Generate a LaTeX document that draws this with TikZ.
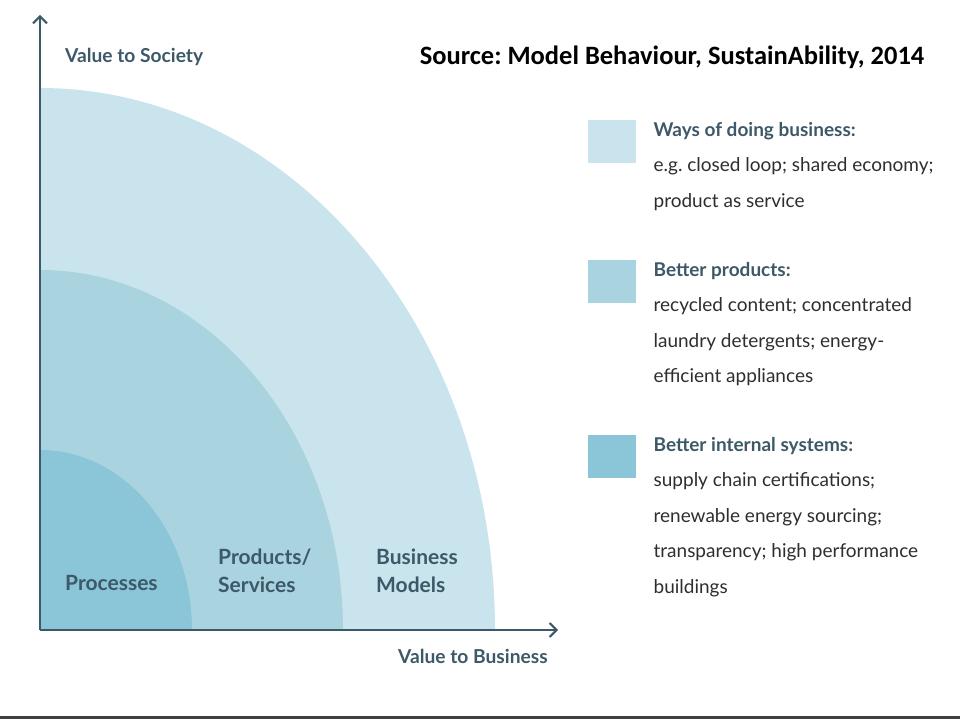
\documentclass[tikz,border=0pt]{standalone}
\usepackage{fontspec}
\setmainfont{Lato}
\newfontfamily\srcfont{Carlito}
\usetikzlibrary{positioning, arrows.meta}
\frenchspacing

\definecolor{ringout}{HTML}{C9E4EC}
\definecolor{ringmid}{HTML}{A9D4DF}
\definecolor{ringin}{HTML}{8AC6D7}
\definecolor{slate}{HTML}{3D5868}
\definecolor{bodygray}{HTML}{2E2E2E}

\begin{document}
\begin{tikzpicture}[
  x=1pt, y=1pt,
  axis/.style={draw=slate, line width=2pt, -{Straight Barb[length=7pt, width=14pt]}},
  axlabel/.style={font=\fontsize{19.2}{24}\selectfont\bfseries, text=slate, inner sep=0pt, anchor=west},
  ringlabel/.style={font=\fontsize{21}{28}\selectfont\bfseries, text=slate, align=left, inner sep=0pt, anchor=west},
  legbox/.style={minimum width=48pt, minimum height=43pt, inner sep=0pt, anchor=north west},
  legtext/.style={font=\fontsize{19}{35.5}\selectfont, text=bodygray, align=left, inner sep=0pt},
]
\useasboundingbox (0,0) rectangle (960,720);

% Rings
\coordinate (origin) at (40,90);
\fill[ringout] (origin) -- ++(455,0) arc[start angle=0, end angle=90, x radius=455, y radius=542] -- cycle;
\fill[ringmid] (origin) -- ++(303,0) arc[start angle=0, end angle=90, x radius=303, y radius=360] -- cycle;
\fill[ringin] (origin) -- ++(152,0) arc[start angle=0, end angle=90, x radius=152, y radius=180] -- cycle;

% Axes
\coordinate (ytip) at (40,705);
\coordinate (xtip) at (558,90);
\draw[axis] (origin) -- (ytip);
\draw[axis] (origin) -- (xtip);

\node[axlabel] (society) at (65,663) {Value to Society};
\node[axlabel] (business) at (398,64) {Value to Business};

% Ring labels
\node[ringlabel] (processes) at (65,137) {Processes};
\node[ringlabel] (products) at (218,149) {Products/\\Services};
\node[ringlabel] (models) at (376,149) {Business\\Models};

% Source
\node[font=\srcfont\fontsize{26.5}{30}\selectfont\bfseries, inner sep=0pt] (source) at (672,663)
  {Source: Model Behaviour, SustainAbility, 2014};

% Legend
\node[legbox, fill=ringout] (sqout) at (588,600) {};
\node[legbox, fill=ringmid] (sqmid) at (588,460) {};
\node[legbox, fill=ringin] (sqin) at (588,285) {};

\node[legtext, below right=2pt and 17pt of sqout.north east] (legout)
  {{\color{slate}\bfseries Ways of doing business:}\\e.g. closed loop; shared economy;\\product as service};
\node[legtext, below right=2pt and 17pt of sqmid.north east] (legmid)
  {{\color{slate}\bfseries Better products:}\\recycled content; concentrated\\laundry detergents; energy-\\efficient appliances};
\node[legtext, below right=2pt and 17pt of sqin.north east] (legin)
  {{\color{slate}\bfseries Better internal systems:}\\supply chain certifications;\\renewable energy sourcing;\\transparency; high performance\\buildings};

% Slide edge
\draw[line width=3pt, draw=black!75] (0,3) -- (960,3);

\end{tikzpicture}
\end{document}
